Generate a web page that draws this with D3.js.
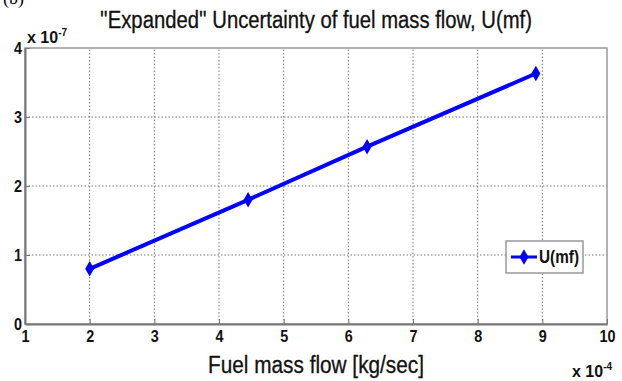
<!DOCTYPE html>
<html lang="en">
<head>
<meta charset="UTF-8">
<title>Expanded Uncertainty of fuel mass flow</title>
<script src="https://d3js.org/d3.v7.min.js"></script>
<style>
  body { margin: 0; background: #fff; }
  svg { display: block; }
  .tick text { font-family: "Liberation Sans", Arial, sans-serif; font-weight: bold; font-size: 17px; fill: #111; }
  .grid line { stroke: #777; stroke-width: 1; stroke-dasharray: 1.5,2; }
</style>
</head>
<body>
<script>
// data (x in 1e-4 kg/s, y in 1e-7)
var massFlow = [2, 4.45, 6.29, 8.9];
var uncertainty = [0.8, 1.8, 2.57, 3.63];
var xTicks = [1, 2, 3, 4, 5, 6, 7, 8, 9, 10];
var yTicks = [0, 1, 2, 3, 4];

var width = 622, height = 381;
var margin = {left: 25, right: 15, top: 48, bottom: 57};
var font = '"Liberation Sans", Arial, sans-serif';

var svg = d3.select("body").append("svg")
  .attr("width", width)
  .attr("height", height);

var x = d3.scaleLinear().domain([1, 10]).range([margin.left, width - margin.right]);
var y = d3.scaleLinear().domain([0, 4]).range([height - margin.bottom, margin.top]);

// grid
svg.append("g").attr("class", "grid")
  .selectAll("line.v").data(xTicks.slice(1, -1)).enter().append("line")
  .attr("x1", d => x(d)).attr("x2", d => x(d))
  .attr("y1", y(0)).attr("y2", y(4));
svg.append("g").attr("class", "grid")
  .selectAll("line.h").data(yTicks.slice(1, -1)).enter().append("line")
  .attr("x1", x(1)).attr("x2", x(10))
  .attr("y1", d => y(d)).attr("y2", d => y(d));

// box
svg.append("rect")
  .attr("x", x(1)).attr("y", y(4))
  .attr("width", x(10) - x(1)).attr("height", y(0) - y(4))
  .attr("fill", "none").attr("stroke", "#999").attr("stroke-width", 1.5);

// axes
var xAxis = svg.append("g").attr("transform", "translate(0," + y(0) + ")")
  .call(d3.axisBottom(x).tickValues(xTicks).tickFormat(d3.format("d")).tickSizeInner(-5).tickSizeOuter(0).tickPadding(6));
xAxis.select(".domain").attr("stroke", "#777").attr("stroke-width", 2);
xAxis.selectAll(".tick line").attr("stroke", "#777");
xAxis.selectAll(".tick text").attr("textLength", function () { return this.textContent.length * 8; })
  .attr("lengthAdjust", "spacingAndGlyphs");

var yAxis = svg.append("g").attr("transform", "translate(" + x(1) + ",0)")
  .call(d3.axisLeft(y).tickValues(yTicks).tickFormat(d3.format("d")).tickSizeInner(-5).tickSizeOuter(0).tickPadding(3));
yAxis.select(".domain").attr("stroke", "#777").attr("stroke-width", 2);
yAxis.selectAll(".tick line").attr("stroke", "#777");
yAxis.selectAll(".tick text").attr("textLength", 8).attr("lengthAdjust", "spacingAndGlyphs");

// line
var pts = massFlow.map((d, i) => [d, uncertainty[i]]);
svg.append("path")
  .datum(pts)
  .attr("fill", "none")
  .attr("stroke", "#0000ff")
  .attr("stroke-width", 4)
  .attr("stroke-linecap", "round")
  .attr("d", d3.line().x(d => x(d[0])).y(d => y(d[1])));

var diamond = d3.symbol().type(d3.symbolDiamond).size(70);
svg.selectAll("path.pt").data(pts).enter().append("path")
  .attr("class", "pt")
  .attr("transform", d => "translate(" + x(d[0]) + "," + y(d[1]) + ")")
  .attr("d", diamond)
  .attr("fill", "#0000ff");

// title and labels
svg.append("text")
  .attr("x", 3).attr("y", 4)
  .attr("font-family", "Liberation Serif, serif").attr("font-size", 18)
  .text("(b)");

svg.append("text")
  .attr("x", (x(1) + x(10)) / 2).attr("y", 28)
  .attr("text-anchor", "middle")
  .attr("font-family", font).attr("font-size", 23)
  .attr("textLength", 432).attr("lengthAdjust", "spacingAndGlyphs")
  .attr("fill", "#111").attr("stroke", "#111").attr("stroke-width", 0.3)
  .text("''Expanded'' Uncertainty of fuel mass flow, U(mf)");

svg.append("text")
  .attr("x", (x(1) + x(10)) / 2).attr("y", 373)
  .attr("text-anchor", "middle")
  .attr("font-family", font).attr("font-size", 23)
  .attr("textLength", 216).attr("lengthAdjust", "spacingAndGlyphs")
  .attr("fill", "#111").attr("stroke", "#111").attr("stroke-width", 0.3)
  .text("Fuel mass flow [kg/sec]");

var ex1 = svg.append("text")
  .attr("x", 27).attr("y", 43)
  .attr("font-family", font).attr("font-weight", "bold").attr("font-size", 16).attr("fill", "#111");
ex1.append("tspan").text("x 10");
ex1.append("tspan").attr("dy", -7).attr("font-size", 10).text("-7");

var ex2 = svg.append("text")
  .attr("x", 572).attr("y", 377)
  .attr("font-family", font).attr("font-weight", "bold").attr("font-size", 16).attr("fill", "#111");
ex2.append("tspan").text("x 10");
ex2.append("tspan").attr("dy", -7).attr("font-size", 10).text("-4");

// legend
var lg = svg.append("g").attr("transform", "translate(506,241)");
lg.append("rect").attr("width", 77).attr("height", 32)
  .attr("fill", "#fff").attr("stroke", "#999").attr("stroke-width", 1.5);
lg.append("line").attr("x1", 5).attr("x2", 31).attr("y1", 16).attr("y2", 16)
  .attr("stroke", "#0000ff").attr("stroke-width", 3);
lg.append("path").attr("transform", "translate(18,16)").attr("d", diamond).attr("fill", "#0000ff");
lg.append("text").attr("x", 33).attr("y", 22)
  .attr("font-family", font).attr("font-weight", "bold").attr("font-size", 18).attr("fill", "#111")
  .attr("textLength", 40).attr("lengthAdjust", "spacingAndGlyphs")
  .text("U(mf)");
</script>
</body>
</html>
